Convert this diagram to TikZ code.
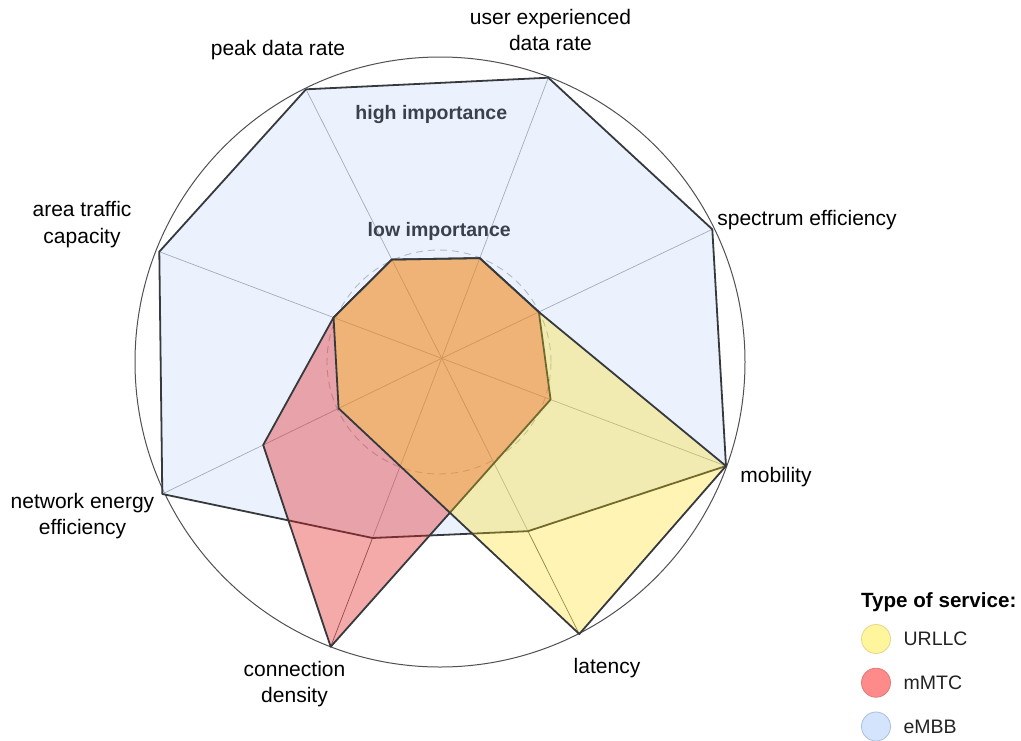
\documentclass[tikz,border=0pt]{standalone}
\usepackage{fontspec}
\setmainfont{Liberation Sans}
\usetikzlibrary{calc,
                positioning
            }

\definecolor{edgegray}{RGB}{54,57,61}
\definecolor{axisgray}{RGB}{100,100,100}
\definecolor{ringgray}{RGB}{80,80,84}
\definecolor{dashgray}{RGB}{130,130,130}
\definecolor{embbfill}{RGB}{218,232,252}
\definecolor{mmtcfill}{RGB}{228,32,32}
\definecolor{urllcfill}{RGB}{255,220,5}
\definecolor{importancegray}{RGB}{59,64,76}
\definecolor{urllcdot}{RGB}{255,245,157}
\definecolor{urllcedge}{RGB}{228,214,140}
\definecolor{mmtcdot}{RGB}{255,138,138}
\definecolor{mmtcedge}{RGB}{222,122,122}
\definecolor{embbdot}{RGB}{212,228,252}
\definecolor{embbedge}{RGB}{170,190,222}
\definecolor{legendtext}{RGB}{34,34,34}

\begin{document}
\begin{tikzpicture}[x=1pt, y=-1pt,
        axisline/.style={draw=axisgray, line width=0.7pt},
        area/.style={draw=edgegray, line width=1.8pt, line join=round},
        lbl/.style={align=center, inner sep=0pt, font=\fontsize{21}{26.5}\selectfont},
        importance/.style={inner sep=0pt, text=importancegray, font=\fontsize{19.5}{23}\selectfont\bfseries},
        legdot/.style={circle, minimum size=29pt, inner sep=0pt, line width=0.8pt},
        legtext/.style={inner sep=0pt, text=legendtext, font=\fontsize{19.5}{23}\selectfont}
    ]
    \useasboundingbox (0,0) rectangle (1021,740);

    \coordinate (C) at (441.7,358.3);
    \coordinate (peak) at (306,89.3);
    \coordinate (user) at (548.3,77.7);
    \coordinate (spectrum) at (712.3,229.3);
    \coordinate (mobility) at (726,466);
    \coordinate (latency) at (579.3,634);
    \coordinate (connection) at (330.7,646.7);
    \coordinate (energy) at (162.3,494);
    \coordinate (traffic) at (159.3,251.7);

    \foreach \p/\t in {peak/0.367, user/0.357, spectrum/0.359, mobility/0.383, energy/0.369, traffic/0.383}
        \coordinate (\p-low) at ($(C)!\t!(\p)$);
    \coordinate (latency-mid) at ($(C)!0.627!(latency)$);
    \coordinate (connection-mid) at ($(C)!0.623!(connection)$);
    \coordinate (energy-mid) at ($(C)!0.639!(energy)$);

    \draw[draw=ringgray, line width=1pt] (440,362) circle[radius=305pt];
    \foreach \p in {peak, user, spectrum, mobility, latency, connection, energy, traffic}
        \draw[axisline] (C) -- (\p);
    \draw[draw=dashgray, line width=0.9pt, dash pattern=on 7pt off 5pt] (439,362) circle[radius=112pt];

    \draw[area, fill=embbfill, fill opacity=0.55] (peak) -- (user) -- (spectrum) -- (mobility) -- (latency-mid) -- (connection-mid) -- (energy) -- (traffic) -- cycle;
    \draw[area, fill=mmtcfill, fill opacity=0.38] (traffic-low) -- (peak-low) -- (user-low) -- (spectrum-low) -- (mobility-low) -- (connection) -- (energy-mid) -- cycle;
    \draw[area, fill=urllcfill, fill opacity=0.3] (traffic-low) -- (peak-low) -- (user-low) -- (spectrum-low) -- (mobility) -- (latency) -- (energy-low) -- cycle;

    \node[importance] (high) at (431.3,114) {high importance};
    \node[importance] (low) at (439.2,231.7) {low importance};

    \node[lbl] (peaklabel) at (278,50) {peak data rate};
    \node[lbl] (userlabel) at (550.5,30) {user experienced\\data rate};
    \node[lbl] (spectrumlabel) at (807,220) {spectrum efficiency};
    \node[lbl] (mobilitylabel) at (776,477) {mobility};
    \node[lbl] (latencylabel) at (607,668) {latency};
    \node[lbl] (connectionlabel) at (294.5,684) {connection\\density};
    \node[lbl] (energylabel) at (82.5,516) {network energy\\efficiency};
    \node[lbl] (trafficlabel) at (82,224.5) {area traffic\\capacity};

    \node[inner sep=0pt, font=\fontsize{20.6}{24}\selectfont\bfseries] (legtitle) at (938.8,601.7) {Type of service:};
    \node[legdot, fill=urllcdot, draw=urllcedge] (urllcdot) at (876,639) {};
    \node[legdot, fill=mmtcdot, draw=mmtcedge] (mmtcdot) at (876,682.7) {};
    \node[legdot, fill=embbdot, draw=embbedge] (embbdot) at (876,726.5) {};
    \node[legtext, right=12.5pt of urllcdot] (urllc) {URLLC};
    \node[legtext, right=12.5pt of mmtcdot] (mmtc) {mMTC};
    \node[legtext, right=12.5pt of embbdot] (embb) {eMBB};
\end{tikzpicture}
\end{document}
